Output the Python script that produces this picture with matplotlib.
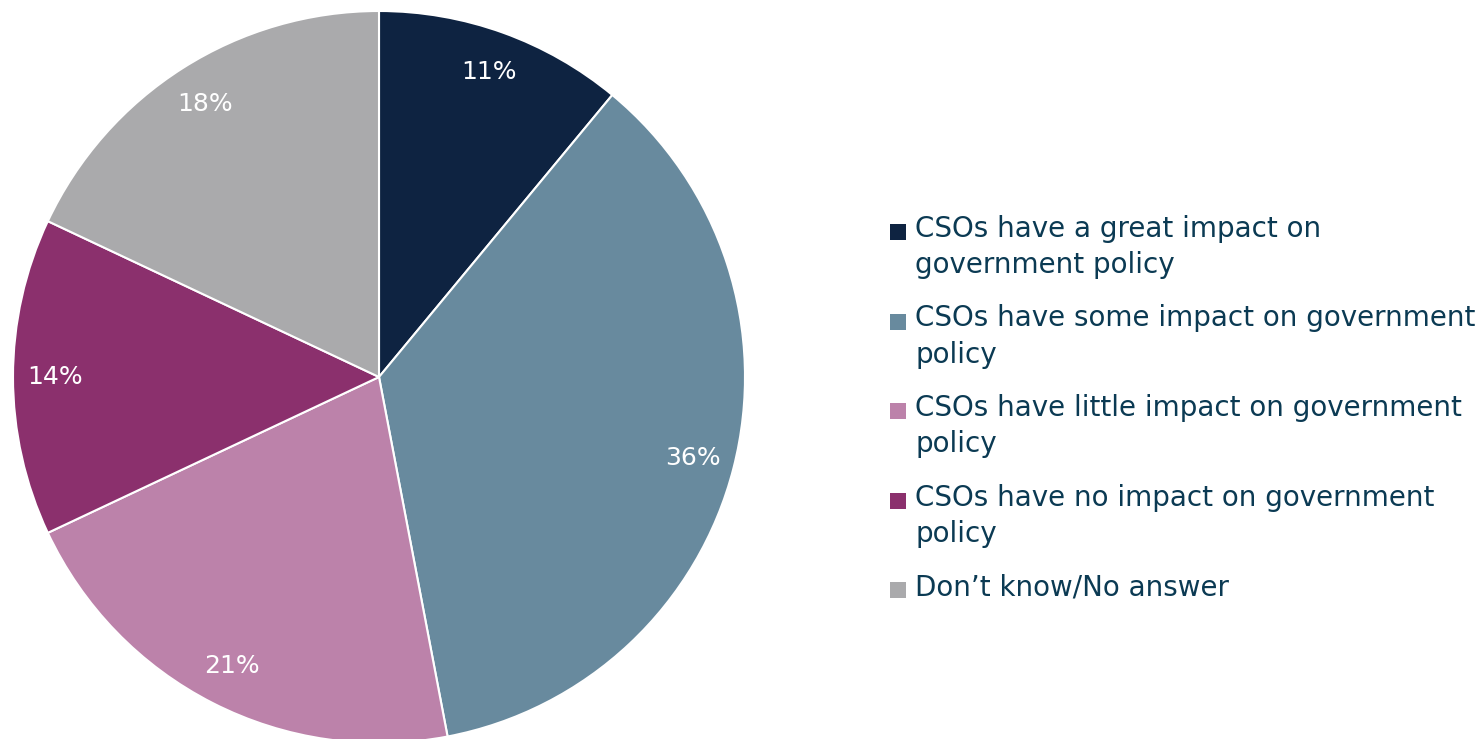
import matplotlib.pyplot as plt
from matplotlib.patches import Rectangle

labels = ['CSOs have a great impact on\ngovernment policy',
          'CSOs have some impact on government\npolicy',
          'CSOs have little impact on government\npolicy',
          'CSOs have no impact on government\npolicy',
          'Don\u2019t know/No answer']
values = [11, 36, 21, 14, 18]
colors = ['#0E2341', '#688A9E', '#BC82AA', '#8B306D', '#AAAAAC']

fig = plt.figure(figsize=(14.82, 7.39), dpi=100)
ax = fig.add_axes([13 / 1482, -4 / 739, 732 / 1482, 732 / 739])

wedges, texts = ax.pie(values, colors=colors, startangle=90, counterclock=False,
                       labels=[f'{v}%' for v in values], labeldistance=0.885,
                       wedgeprops=dict(edgecolor='white', linewidth=1.5),
                       textprops=dict(color='white', fontsize=18))
for t in texts:
    t.set_ha('center')
    t.set_va('center')
ax.set_xlim(-1, 1)
ax.set_ylim(-1, 1)
ax.set_aspect('equal')

# legenda manuale
txt_color = '#0B3A53'
y_top = 1 - 215 / 739
step = 89.5 / 739
for i, (lab, c) in enumerate(zip(labels, colors)):
    y = y_top - i * step
    fig.patches.append(Rectangle((890 / 1482, y - 25 / 739), 16 / 1482, 16 / 739,
                                 transform=fig.transFigure, facecolor=c, edgecolor='none'))
    fig.text(915 / 1482, y, lab, color=txt_color, fontsize=20, va='top', ha='left',
             linespacing=1.38)

fig.savefig('out.png', dpi=100)
